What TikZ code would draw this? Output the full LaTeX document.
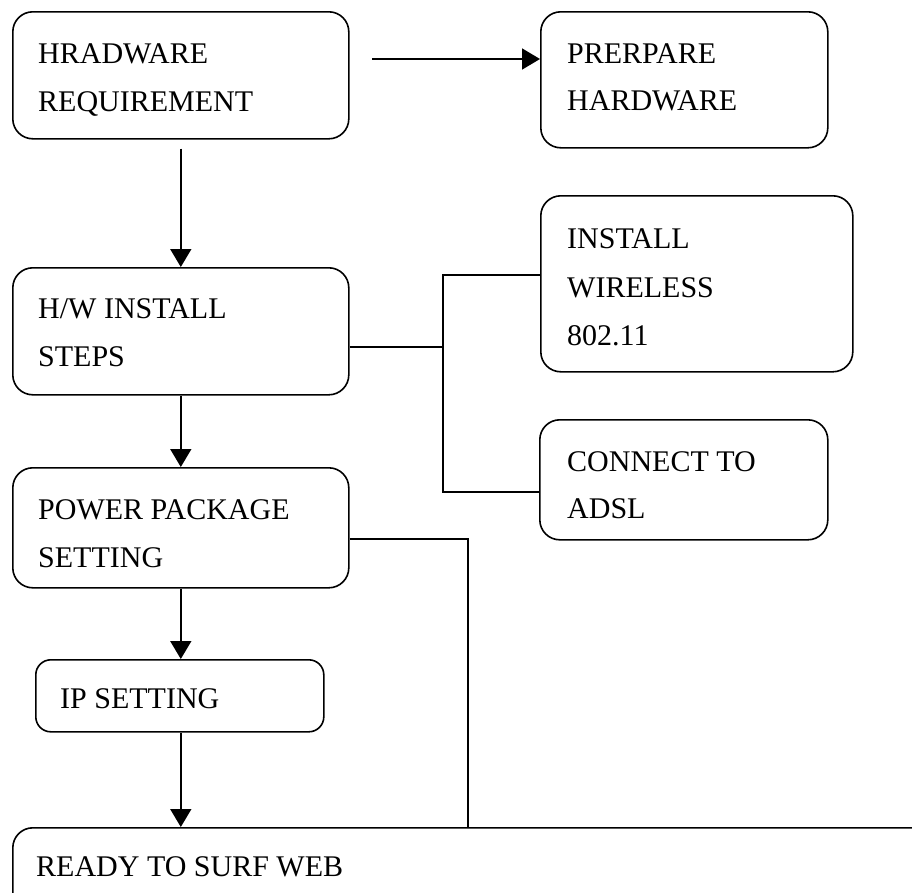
\documentclass[tikz,border=0pt]{standalone}
\usepackage{fontspec}
\setmainfont{Liberation Serif}
\usetikzlibrary{arrows.meta}
\tikzset{
  box/.style={draw, line width=1.6pt, rounded corners=20pt, anchor=north west, inner sep=0pt},
  smallbox/.style={box, rounded corners=15pt},
  txt/.style={anchor=base west, inner sep=0pt, font=\fontsize{30}{36}\selectfont},
  conn/.style={line width=1.6pt},
  arr/.style={conn, -{Triangle[length=18pt,width=21pt]}}
}
\begin{document}
\begin{tikzpicture}[x=1pt,y=-1pt]
\clip (0,0) rectangle (912,892);
\fill[white] (0,0) rectangle (912,892);
% boxes
\node[box, minimum width=336pt, minimum height=127pt] (b1) at (12,11) {};
\node[box, minimum width=287pt, minimum height=136pt] (b2) at (540,11) {};
\node[box, minimum width=336pt, minimum height=127pt] (b3) at (12,267) {};
\node[box, minimum width=312pt, minimum height=176pt] (b4) at (540,195) {};
\node[box, minimum width=288pt, minimum height=120pt] (b5) at (539,419) {};
\node[box, minimum width=336pt, minimum height=120pt] (b6) at (12,467) {};
\node[smallbox, minimum width=288pt, minimum height=72pt] (b7) at (35,659) {};
\node[box, minimum width=930pt, minimum height=100pt] (b8) at (12,827) {};
% texts
\node[txt] (t1a) at (38,63) {HRADWARE};
\node[txt] (t1b) at (38,111) {REQUIREMENT};
\node[txt] (t2a) at (567,63) {PRERPARE};
\node[txt] (t2b) at (567,110) {HARDWARE};
\node[txt] (t3a) at (38,318) {H/W INSTALL};
\node[txt] (t3b) at (38,366) {STEPS};
\node[txt] (t4a) at (567,248) {INSTALL};
\node[txt] (t4b) at (567,297) {WIRELESS};
\node[txt] (t4c) at (567,345) {802.11};
\node[txt] (t5a) at (567,471) {CONNECT TO};
\node[txt] (t5b) at (567,518) {ADSL};
\node[txt] (t6a) at (38,519) {POWER PACKAGE};
\node[txt] (t6b) at (38,567) {SETTING};
\node[txt] (t7a) at (60,708) {IP SETTING};
\node[txt] (t8a) at (36,876) {READY TO SURF WEB};
% connectors
\coordinate (h0) at (372,59);
\draw[arr] (h0) -- (h0 -| b2.west);
\draw[arr] ([yshift=-9pt]b1.south) -- (b3.north);
\draw[arr] (b3.south) -- (b6.north);
\draw[arr] (b6.south) -- (b7.north -| b6.south);
\draw[arr] (b7.south -| b6.south) -- (b8.north -| b6.south);
\coordinate (j1) at (443,347);
\coordinate (j2) at (443,275);
\coordinate (j3) at (443,492);
\draw[conn] (j1 -| b3.east) -- (j1);
\draw[conn] (j2 -| b4.west) -- (j2) -- (j3) -- (j3 -| b5.west);
\coordinate (k1) at (468,539);
\draw[conn] (k1 -| b6.east) -- (k1) -- (k1 |- b8.north);
\end{tikzpicture}
\end{document}
